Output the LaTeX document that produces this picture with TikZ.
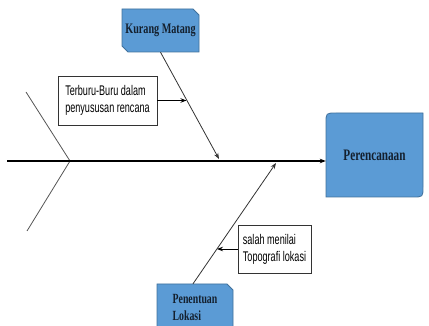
\documentclass[tikz,border=0pt]{standalone}
\usepackage{fontspec}
\usetikzlibrary{arrows.meta,calc}
\newfontfamily\boxfont[FakeStretch=0.7]{Liberation Serif}
\newfontfamily\notefont[FakeStretch=0.65]{Liberation Sans}
\definecolor{boxblue}{HTML}{5B9BD5}
\definecolor{boxedge}{HTML}{41719C}
\definecolor{boxtext}{HTML}{14202E}
\definecolor{bonegray}{HTML}{555555}
\tikzset{
  bluebox/.style={fill=boxblue,draw=boxedge,line width=0.8pt},
  bluetext/.style={inner sep=0pt,text=boxtext,font=\boxfont\bfseries},
  notebox/.style={draw=black!80,fill=white,line width=0.8pt,inner sep=0pt,
    font=\notefont\fontsize{14}{17}\selectfont,align=left},
  spine/.style={line width=1.3pt,-{Stealth[length=6pt,width=4.5pt]}},
  bone/.style={draw=bonegray,line width=0.8pt},
  bonearrow/.style={bone,-{Stealth[length=6pt,width=4.5pt]},draw=black!80},
  notearrow/.style={line width=0.9pt,-{Stealth[length=6pt,width=4.5pt]}}
}
\begin{document}
\begin{tikzpicture}[x=1pt,y=-1pt]
\useasboundingbox (0,0) rectangle (429,326);
\clip (0,0) rectangle (429,326);
% head box
\filldraw[bluebox] (326,197) -- (326,123) .. controls (326,113) .. (336,113)
  -- (423,113) -- (423,187) .. controls (423,197) .. (413,197) -- cycle;
\node[bluetext,font=\boxfont\bfseries\fontsize{16}{18}\selectfont,
  minimum width=97pt,minimum height=84pt] (pr) at (374.5,155) {Perencanaan};
% Kurang Matang box
\filldraw[bluebox] (122,9) -- (193,9) -- (199,15) -- (199,52) -- (128,52) -- (122,46) -- cycle;
\node[bluetext,font=\boxfont\bfseries\fontsize{14.5}{17}\selectfont,
  minimum width=77pt,minimum height=43pt] (km) at (160.5,30.5) {Kurang Matang};
% Penentuan Lokasi box
\filldraw[bluebox] (157,284) -- (227,284) -- (233,290) -- (233,334) -- (157,334) -- cycle;
\node[bluetext,font=\boxfont\bfseries\fontsize{14}{17}\selectfont,align=left,
  minimum width=76pt,minimum height=46pt] (pl) at (195,307) {Penentuan\\Lokasi};
% tail and spine
\coordinate (tailtop) at (26,92);
\coordinate (tailmid) at (70,161);
\coordinate (tailbot) at (27,231);
\coordinate (spinestart) at (7,161);
\draw[bone] (tailtop) -- (tailmid) -- (tailbot);
\draw[spine] (spinestart) -- (pr.west |- 0,161);
% bones
\coordinate (up) at (219,159);
\coordinate (lo) at (276,163);
\draw[bonearrow] (km.south) -- (up);
\draw[bonearrow] (pl.north -| 193,0) -- (lo);
% note boxes
\node[notebox,minimum width=99pt,minimum height=49pt] (tb) at (107.5,100.5)
  {Terburu-Buru dalam\\penyususan rencana};
\node[notebox,minimum width=73pt,minimum height=48pt] (sm) at (274.5,249)
  {salah menilai\\Topografi lokasi};
\coordinate (tbend) at ($(km.south)!0.444!(up)$);
\coordinate (smend) at ($(193,284)!0.289!(lo)$);
\draw[notearrow] (tb.east) -- (tbend |- tb.east);
\draw[notearrow] (sm.west) -- (smend |- sm.west);
\end{tikzpicture}
\end{document}
